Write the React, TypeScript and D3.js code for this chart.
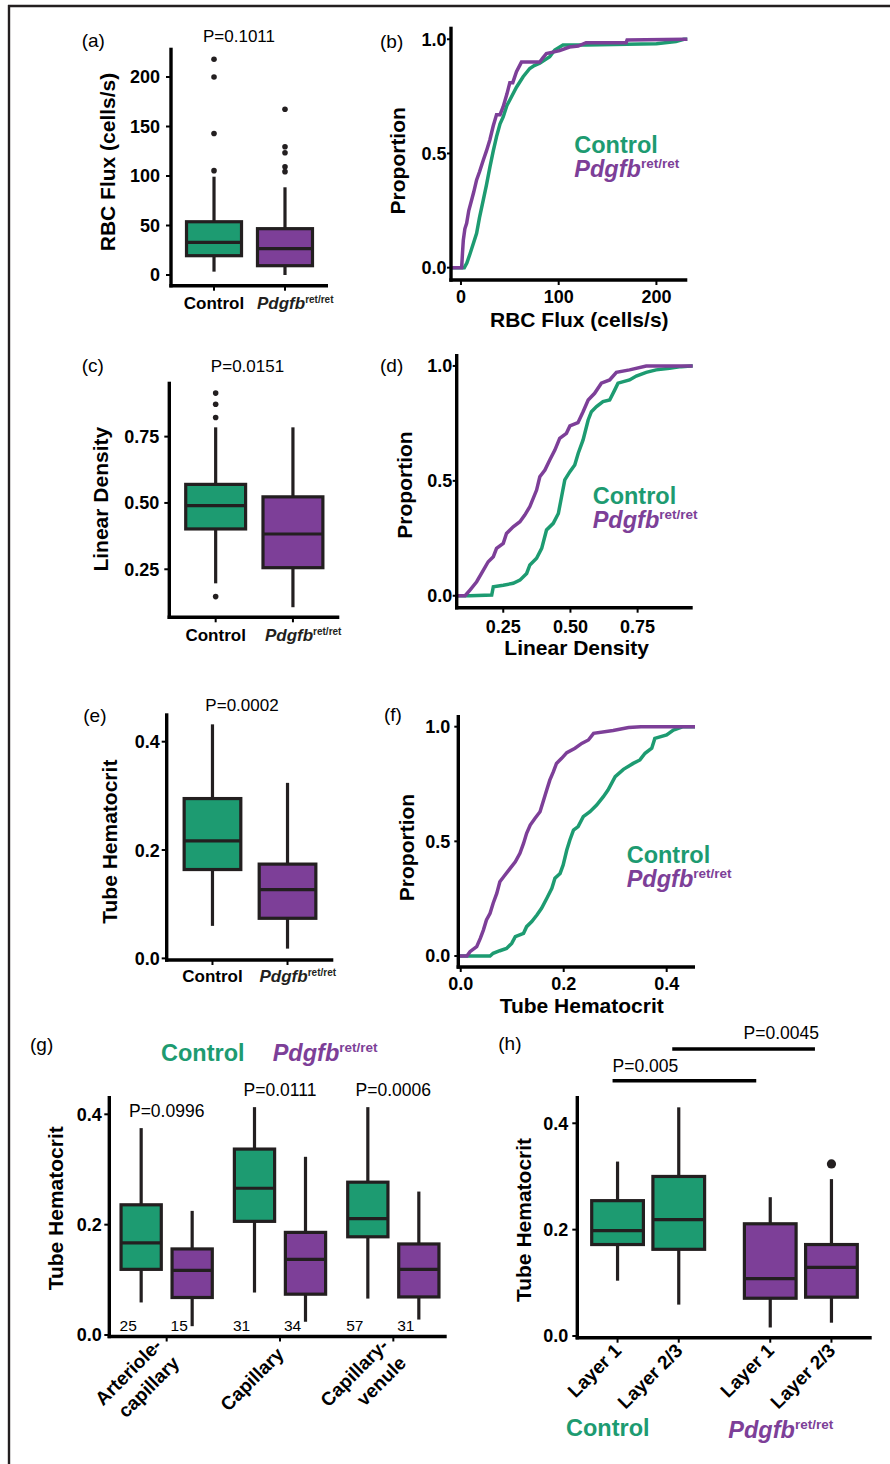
import React from "react";
import * as d3 from "d3";

const GREEN = "#1d9b71";
const PURPLE = "#7d3f98";
const INK = "#231f20";
const FONT = "'Liberation Sans', Arial, Helvetica, sans-serif";

// ---------- shared categories ----------
const boxGroups = ["Control", "Pdgfb"];

// ---------- (a) RBC flux boxplot: [lo, q1, median, q3, hi] ----------
const fluxControlBox = [3.4, 19.5, 33, 53.8, 99.3];
const fluxPdgfbBox = [0, 9.4, 26.6, 46.8, 88.6];
const fluxControlOutliers = [105.4, 143, 200, 218];
const fluxPdgfbOutliers = [104.4, 109.4, 123.5, 129.6, 167.4];
const fluxTicks = [0, 50, 100, 150, 200];

// ---------- (b) RBC flux ECDF [value, proportion] ----------
const fluxControlCdf: [number, number][] = [
  [3.4, 0], [6, 0.02], [9.2, 0.06], [13, 0.11], [16, 0.15], [19, 0.22], [22.8, 0.296],
  [26, 0.36], [29.6, 0.44], [33, 0.51], [36.4, 0.574], [40, 0.63], [43.2, 0.66], [47, 0.71],
  [50, 0.734], [56.8, 0.79], [63.6, 0.836], [70.4, 0.872], [75, 0.885], [80.6, 0.895],
  [90.8, 0.924], [96, 0.953], [104.4, 0.975], [128, 0.975], [170, 0.978], [200, 0.98],
  [220, 0.99], [228, 1.0],
];
const fluxPdgfbCdf: [number, number][] = [
  [0.7, 0], [1.5, 0.06], [2.4, 0.12], [4, 0.17], [5.8, 0.194], [8, 0.25], [10.9, 0.296],
  [13, 0.33], [16, 0.384], [19, 0.42], [22.8, 0.47], [26, 0.51], [29.6, 0.56], [33, 0.62],
  [36.4, 0.67], [40, 0.67], [43.2, 0.705], [47, 0.76], [50, 0.81], [53, 0.81], [56.8, 0.858],
  [61.9, 0.9], [80.6, 0.9], [84, 0.92], [87.4, 0.937], [101, 0.95], [111, 0.966], [120, 0.97],
  [128, 0.985], [169, 0.985], [170, 0.997], [230, 1.0],
];
const fluxCdfTicks = [0, 100, 200];
const proportionTicks = [0, 0.5, 1];

// ---------- (c) linear density boxplot ----------
const densityControlBox = [0.197, 0.402, 0.49, 0.57, 0.785];
const densityPdgfbBox = [0.107, 0.256, 0.383, 0.523, 0.785];
const densityControlOutliers = [0.147, 0.822, 0.872, 0.914];
const densityPdgfbOutliers: number[] = [];
const densityTicks = [0.25, 0.5, 0.75];

// ---------- (d) linear density ECDF ----------
const densityPdgfbCdf: [number, number][] = [
  [0.108, 0], [0.126, 0.025], [0.151, 0.061], [0.176, 0.112], [0.194, 0.148], [0.213, 0.17],
  [0.225, 0.206], [0.25, 0.228], [0.262, 0.271], [0.287, 0.3], [0.312, 0.322], [0.33, 0.351],
  [0.349, 0.388], [0.374, 0.46], [0.386, 0.518], [0.405, 0.547], [0.423, 0.591], [0.442, 0.634],
  [0.46, 0.685], [0.485, 0.707], [0.498, 0.739], [0.528, 0.753], [0.547, 0.801], [0.566, 0.852],
  [0.59, 0.881], [0.615, 0.925], [0.646, 0.939], [0.671, 0.972], [0.72, 0.983], [0.782, 1.0],
];
const densityControlCdf: [number, number][] = [
  [0.126, 0], [0.207, 0.003], [0.213, 0.039], [0.25, 0.046], [0.287, 0.054], [0.312, 0.068],
  [0.337, 0.097], [0.349, 0.134], [0.374, 0.163], [0.393, 0.206], [0.411, 0.286], [0.436, 0.315],
  [0.455, 0.358], [0.467, 0.431], [0.479, 0.504], [0.498, 0.54], [0.516, 0.569], [0.529, 0.62],
  [0.547, 0.678], [0.566, 0.765], [0.578, 0.801], [0.597, 0.823], [0.621, 0.845], [0.646, 0.852],
  [0.665, 0.896], [0.677, 0.925], [0.72, 0.939], [0.745, 0.956], [0.782, 0.972], [0.819, 0.983],
  [0.869, 0.99], [0.912, 0.997], [0.949, 1.0],
];

// ---------- (e) tube hematocrit boxplot ----------
const hctControlBox = [0.06, 0.164, 0.217, 0.295, 0.432];
const hctPdgfbBox = [0.018, 0.074, 0.127, 0.174, 0.324];
const hctTicks = [0, 0.2, 0.4];

// ---------- (f) tube hematocrit ECDF ----------
const hctPdgfbCdf: [number, number][] = [
  [0.012, 0], [0.018, 0.019], [0.031, 0.041], [0.038, 0.077], [0.044, 0.113], [0.05, 0.157],
  [0.057, 0.186], [0.063, 0.23], [0.07, 0.273], [0.076, 0.324], [0.086, 0.353], [0.096, 0.382],
  [0.106, 0.411], [0.115, 0.448], [0.122, 0.491], [0.128, 0.535], [0.135, 0.571], [0.144, 0.6],
  [0.154, 0.629], [0.16, 0.673], [0.167, 0.724], [0.173, 0.767], [0.18, 0.804], [0.186, 0.84],
  [0.196, 0.862], [0.206, 0.887], [0.222, 0.906], [0.235, 0.927], [0.248, 0.942], [0.258, 0.971],
  [0.296, 0.983], [0.326, 0.996], [0.35, 1.0],
];
const hctControlCdf: [number, number][] = [
  [0.018, 0], [0.057, 0], [0.063, 0.012], [0.076, 0.023], [0.089, 0.033], [0.099, 0.055],
  [0.106, 0.084], [0.122, 0.099], [0.128, 0.128], [0.138, 0.15], [0.148, 0.179], [0.157, 0.208],
  [0.167, 0.251], [0.177, 0.295], [0.183, 0.339], [0.193, 0.36], [0.199, 0.397], [0.206, 0.462],
  [0.212, 0.506], [0.219, 0.549], [0.228, 0.564], [0.238, 0.608], [0.251, 0.629], [0.264, 0.658],
  [0.277, 0.695], [0.286, 0.724], [0.3, 0.782], [0.316, 0.814], [0.335, 0.84], [0.348, 0.855],
  [0.358, 0.884], [0.371, 0.906], [0.377, 0.949], [0.4, 0.964], [0.413, 0.985], [0.432, 1.0],
];

// ---------- (g) hematocrit by vessel type ----------
const vesselTypes = ["Arteriole-capillary", "Capillary", "Capillary-venule"];
const vesselLabelLines = [["Arteriole-", "capillary"], ["Capillary"], ["Capillary-", "venule"]];
const vesselControlBoxes = [
  [0.059, 0.119, 0.167, 0.236, 0.375],
  [0.077, 0.206, 0.266, 0.337, 0.413],
  [0.066, 0.178, 0.211, 0.277, 0.413],
];
const vesselPdgfbBoxes = [
  [0.016, 0.068, 0.117, 0.156, 0.225],
  [0.024, 0.074, 0.137, 0.186, 0.323],
  [0.028, 0.069, 0.119, 0.165, 0.26],
];
const vesselControlN = [25, 31, 57];
const vesselPdgfbN = [15, 34, 31];
const vesselPValues = ["P=0.0996", "P=0.0111", "P=0.0006"];

// ---------- (h) hematocrit by cortical layer ----------
const layers = ["Layer 1", "Layer 2/3"];
const layerControlBoxes = [
  [0.104, 0.172, 0.198, 0.2545, 0.328],
  [0.059, 0.163, 0.219, 0.3, 0.43],
];
const layerPdgfbBoxes = [
  [0.016, 0.071, 0.108, 0.211, 0.261],
  [0.025, 0.073, 0.129, 0.172, 0.295],
];
const layerPdgfbOutliers = [[], [0.3235]];
const layerPValues = ["P=0.005", "P=0.0045"];

// ================= drawing helpers =================
const AXW = 3.4;
const BOXW = 3.2;

function PdgfbLabel({ x, y, size, sup, anchor = "start", fill = INK }: any) {
  return (
    <text x={x} y={y} fontSize={size} fontWeight="bold" fill={fill} textAnchor={anchor}>
      <tspan fontStyle="italic">Pdgfb</tspan>
      <tspan fontSize={sup} dy={-size * 0.36}>ret/ret</tspan>
    </text>
  );
}

function Box({ cx, w, y, s, fill, outliers = [], r = 2.8 }: any) {
  const [lo, q1, med, q3, hi] = s;
  return (
    <g>
      <line x1={cx} x2={cx} y1={y(hi)} y2={y(q3)} stroke={INK} strokeWidth={BOXW} />
      <line x1={cx} x2={cx} y1={y(q1)} y2={y(lo)} stroke={INK} strokeWidth={BOXW} />
      <rect x={cx - w / 2} y={y(q3)} width={w} height={y(q1) - y(q3)} fill={fill} stroke={INK} strokeWidth={BOXW} />
      <line x1={cx - w / 2} x2={cx + w / 2} y1={y(med)} y2={y(med)} stroke={INK} strokeWidth={BOXW} />
      {outliers.map((o: number, i: number) => (
        <circle key={i} cx={cx} cy={y(o)} r={r} fill={INK} />
      ))}
    </g>
  );
}

function YAxis({ x, top, bottom, y, ticks, fmt, gap, tickLen = 5 }: any) {
  return (
    <g>
      <line x1={x} x2={x} y1={top} y2={bottom + AXW / 2} stroke="#000" strokeWidth={AXW} />
      {ticks.map((t: number) => (
        <g key={t}>
          <line x1={x - tickLen} x2={x} y1={y(t)} y2={y(t)} stroke="#000" strokeWidth={2} />
          <text x={x - gap} y={y(t)} dy="0.36em" textAnchor="end" fontSize={18} fontWeight="bold">
            {fmt(t)}
          </text>
        </g>
      ))}
    </g>
  );
}

function XAxisLine({ left, right, y, ticksAt = [] }: any) {
  return (
    <g>
      <line x1={left - AXW / 2} x2={right} y1={y} y2={y} stroke="#000" strokeWidth={AXW} />
      {ticksAt.map((t: number, i: number) => (
        <line key={i} x1={t} x2={t} y1={y} y2={y + 5} stroke="#000" strokeWidth={2} />
      ))}
    </g>
  );
}

function YTitle({ x, cy, text }: any) {
  return (
    <text transform={`translate(${x},${cy}) rotate(-90)`} textAnchor="middle" fontSize={21} fontWeight="bold">
      {text}
    </text>
  );
}

function Letter({ x, y, t }: any) {
  return (
    <text x={x} y={y} fontSize={19}>
      {t}
    </text>
  );
}

function BoxPanel({ c }: any) {
  const y = d3.scaleLinear().domain(c.domain).range([c.bottom, c.top]);
  const x = d3.scalePoint<string>().domain(boxGroups).range([c.left, c.right]).padding(c.pad);
  const bw = x.step() * c.boxFrac;
  const xc = boxGroups.map((g) => x(g) as number);
  return (
    <g>
      <Letter x={c.letterX} y={c.letterY} t={c.letter} />
      <text x={c.pX} y={c.pY} textAnchor="middle" fontSize={17}>
        {c.pText}
      </text>
      <Box cx={xc[0]} w={bw} y={y} s={c.boxes[0]} fill={GREEN} outliers={c.outliers[0]} />
      <Box cx={xc[1]} w={bw} y={y} s={c.boxes[1]} fill={PURPLE} outliers={c.outliers[1]} />
      <YAxis x={c.left} top={c.top} bottom={c.bottom} y={y} ticks={c.ticks} fmt={c.fmt} gap={c.gap} />
      <XAxisLine left={c.left} right={c.right} y={c.bottom} ticksAt={xc} />
      <text x={xc[0]} y={c.catY} textAnchor="middle" fontSize={17} fontWeight="bold">
        Control
      </text>
      <PdgfbLabel x={xc[1] - 28} y={c.catY} size={17} sup={10} />
      <YTitle x={c.ylabX} cy={c.ylabY} text={c.ylab} />
    </g>
  );
}

function CdfPanel({ c }: any) {
  const x = d3.scaleLinear().domain(c.xDomain).range([c.left, c.right]);
  const y = d3.scaleLinear().domain(c.yDomain).range([c.bottom, c.top]);
  const line = d3
    .line<[number, number]>()
    .x((d) => x(d[0]))
    .y((d) => y(d[1]));
  const pad = (arr: [number, number][]) =>
    [[c.xDomain[0], 0], ...arr, [c.xDomain[1], 1]] as [number, number][];
  return (
    <g>
      <Letter x={c.letterX} y={c.letterY} t={c.letter} />
      <path d={line(pad(c.control)) || ""} fill="none" stroke={GREEN} strokeWidth={3.5} strokeLinejoin="miter" />
      <path d={line(pad(c.pdgfb)) || ""} fill="none" stroke={PURPLE} strokeWidth={3.5} strokeLinejoin="miter" />
      <YAxis x={c.left} top={c.top} bottom={c.bottom} y={y} ticks={proportionTicks} fmt={d3.format(".1f")} gap={c.gap} tickLen={4} />
      <XAxisLine left={c.left} right={c.right} y={c.bottom} ticksAt={c.xTicks.map((t: number) => x(t))} />
      {c.xTicks.map((t: number) => (
        <text key={t} x={x(t)} y={c.xTickY} textAnchor="middle" fontSize={18} fontWeight="bold">
          {c.xFmt(t)}
        </text>
      ))}
      <text x={c.xlabX} y={c.xlabY} textAnchor="middle" fontSize={21} fontWeight="bold">
        {c.xlab}
      </text>
      <YTitle x={c.ylabX} cy={c.ylabY} text="Proportion" />
      <text x={c.legX} y={c.legY} fontSize={23.5} fontWeight="bold" fill={GREEN}>
        Control
      </text>
      <PdgfbLabel x={c.legX} y={c.legY + 23.5} size={23.5} sup={13.5} fill={PURPLE} />
    </g>
  );
}

function RotLabel({ x, y, lines, size = 18.5, spacing = 25 }: any) {
  const n = lines.length;
  return (
    <g>
      {lines.map((t: string, k: number) => {
        const s = (k - (n - 1) / 2) * spacing;
        const px = x + s * 0.7071;
        const py = y + s * 0.7071;
        return (
          <text key={k} transform={`translate(${px},${py}) rotate(-45)`} textAnchor="end" fontSize={size} fontWeight="bold">
            {t}
          </text>
        );
      })}
    </g>
  );
}

function VesselPanel() {
  const left = 109.3, right = 446.7, top = 1096, bottom = 1336.5;
  const y = d3.scaleLinear().domain([-0.0027, 0.4332]).range([bottom, top]);
  const x = d3.scalePoint<string>().domain(vesselTypes).range([110, 450]).padding(0.5);
  const step = x.step();
  const dodge = step * 0.225;
  const bw = step * 0.355;
  const centers = vesselTypes.map((v) => x(v) as number);
  return (
    <g>
      <Letter x={30} y={1050.7} t="(g)" />
      <text x={161} y={1060.7} fontSize={23.5} fontWeight="bold" fill={GREEN}>
        Control
      </text>
      <PdgfbLabel x={272.7} y={1060.7} size={23.5} sup={13.5} fill={PURPLE} />
      {centers.map((cx, i) => (
        <g key={i}>
          <Box cx={cx - dodge} w={bw} y={y} s={vesselControlBoxes[i]} fill={GREEN} />
          <Box cx={cx + dodge} w={bw} y={y} s={vesselPdgfbBoxes[i]} fill={PURPLE} />
          <text x={cx - dodge - 13} y={1330.7} textAnchor="middle" fontSize={15.5}>
            {vesselControlN[i]}
          </text>
          <text x={cx + dodge - 13} y={1330.7} textAnchor="middle" fontSize={15.5}>
            {vesselPdgfbN[i]}
          </text>
          <text
            x={cx}
            y={y(Math.max(vesselControlBoxes[i][4], vesselPdgfbBoxes[i][4])) - 11}
            textAnchor="middle"
            fontSize={17.5}
          >
            {vesselPValues[i]}
          </text>
          <RotLabel x={cx + 5} y={bottom + 19} lines={vesselLabelLines[i]} size={19} />
        </g>
      ))}
      <YAxis x={left} top={top} bottom={bottom} y={y} ticks={hctTicks} fmt={d3.format(".1f")} gap={7.6} />
      <XAxisLine left={left} right={right} y={bottom} ticksAt={centers} />
      <YTitle x={62.7} cy={1208.3} text="Tube Hematocrit" />
    </g>
  );
}

function LayerPanel() {
  const left = 577.3, right = 871.7, top = 1096, bottom = 1337.7;
  const y = d3.scaleLinear().domain([-0.0032, 0.4513]).range([bottom, top]);
  const gx = d3.scalePoint<string>().domain(boxGroups).range([left, right]).padding(0.464);
  const lx = d3.scalePoint<string>().domain(layers).range([-30.6, 30.6]);
  const bw = 51.7;
  const pos = (g: string, l: string) => (gx(g) as number) + (lx(l) as number);
  const allPos = boxGroups.flatMap((g) => layers.map((l) => pos(g, l)));
  const bar1 = [pos("Control", layers[0]) - 5, pos("Pdgfb", layers[0]) - 14];
  const bar2 = [pos("Control", layers[1]) - 6.5, pos("Pdgfb", layers[1]) - 16.5];
  return (
    <g>
      <Letter x={498.3} y={1050} t="(h)" />
      <line x1={bar1[0]} x2={bar1[1]} y1={1080.7} y2={1080.7} stroke="#000" strokeWidth={3.4} />
      <text x={bar1[0]} y={1071.7} fontSize={17.5}>
        {layerPValues[0]}
      </text>
      <line x1={bar2[0]} x2={bar2[1]} y1={1049} y2={1049} stroke="#000" strokeWidth={3.4} />
      <text x={bar2[1] + 4} y={1039.3} textAnchor="end" fontSize={17.5}>
        {layerPValues[1]}
      </text>
      {layers.map((l, i) => (
        <g key={l}>
          <Box cx={pos("Control", l)} w={bw} y={y} s={layerControlBoxes[i]} fill={GREEN} />
          <Box cx={pos("Pdgfb", l)} w={bw} y={y} s={layerPdgfbBoxes[i]} fill={PURPLE} outliers={layerPdgfbOutliers[i]} r={4.6} />
        </g>
      ))}
      <YAxis x={left} top={top} bottom={bottom} y={y} ticks={hctTicks} fmt={d3.format(".1f")} gap={9} />
      <XAxisLine left={left} right={right} y={bottom} ticksAt={allPos} />
      {boxGroups.map((g) =>
        layers.map((l) => <RotLabel key={g + l} x={pos(g, l) + 5} y={bottom + 14} lines={[l]} size={19} />)
      )}
      <text x={566} y={1436} fontSize={23.5} fontWeight="bold" fill={GREEN}>
        Control
      </text>
      <PdgfbLabel x={728.3} y={1437.7} size={23.5} sup={13.5} fill={PURPLE} />
      <YTitle x={531} cy={1220} text="Tube Hematocrit" />
    </g>
  );
}

const panelA = {
  left: 171, right: 328, top: 47.7, bottom: 285.7, domain: [-10.8, 229.6], ticks: fluxTicks,
  fmt: (d: number) => String(d), pad: 0.606, boxFrac: 0.775, gap: 11, catY: 309.3,
  boxes: [fluxControlBox, fluxPdgfbBox], outliers: [fluxControlOutliers, fluxPdgfbOutliers],
  pText: "P=0.1011", pX: 239, pY: 41.7, letter: "(a)", letterX: 81.7, letterY: 47,
  ylab: "RBC Flux (cells/s)", ylabX: 115, ylabY: 162,
};
const panelC = {
  left: 169.3, right: 339.3, top: 381.7, bottom: 617.3, domain: [0.069, 0.957], ticks: densityTicks,
  fmt: d3.format(".2f"), pad: 0.6, boxFrac: 0.775, gap: 10, catY: 641,
  boxes: [densityControlBox, densityPdgfbBox], outliers: [densityControlOutliers, densityPdgfbOutliers],
  pText: "P=0.0151", pX: 247.5, pY: 371.7, letter: "(c)", letterX: 81.7, letterY: 372.3,
  ylab: "Linear Density", ylabX: 108.3, ylabY: 499.2,
};
const panelE = {
  left: 166.7, right: 333.3, top: 713.3, bottom: 960, domain: [-0.003, 0.4524], ticks: hctTicks,
  fmt: d3.format(".1f"), pad: 0.61, boxFrac: 0.755, gap: 7, catY: 981.7,
  boxes: [hctControlBox, hctPdgfbBox], outliers: [[], []],
  pText: "P=0.0002", pX: 242, pY: 710.7, letter: "(e)", letterX: 83.3, letterY: 721.7,
  ylab: "Tube Hematocrit", ylabX: 117.3, ylabY: 841.7,
};
const panelB = {
  left: 451, right: 687.3, top: 26.7, bottom: 280, xDomain: [-10.2, 231.6], yDomain: [-0.054, 1.055],
  xTicks: fluxCdfTicks, xFmt: (d: number) => String(d), xTickY: 303.3, gap: 4.5,
  xlab: "RBC Flux (cells/s)", xlabX: 579.3, xlabY: 326.7, ylabX: 405, ylabY: 160.8,
  letter: "(b)", letterX: 380, letterY: 48.3, legX: 574.3, legY: 153.3,
  control: fluxControlCdf, pdgfb: fluxPdgfbCdf,
};
const panelD = {
  left: 456.7, right: 692.7, top: 354, bottom: 607.7, xDomain: [0.0767, 0.955], yDomain: [-0.052, 1.052],
  xTicks: densityTicks, xFmt: d3.format(".2f"), xTickY: 633.3, gap: 4.5,
  xlab: "Linear Density", xlabX: 576.7, xlabY: 655, ylabX: 412.3, ylabY: 485,
  letter: "(d)", letterX: 380, letterY: 372.3, legX: 592.7, legY: 504,
  control: densityControlCdf, pdgfb: densityPdgfbCdf,
};
const panelF = {
  left: 458.3, right: 695, top: 715, bottom: 967, xDomain: [-0.0047, 0.455], yDomain: [-0.048, 1.051],
  xTicks: hctTicks, xFmt: d3.format(".1f"), xTickY: 990, gap: 8,
  xlab: "Tube Hematocrit", xlabX: 581.7, xlabY: 1012.5, ylabX: 414, ylabY: 847.5,
  letter: "(f)", letterX: 384, letterY: 720.7, legX: 626.7, legY: 863.3,
  control: hctControlCdf, pdgfb: hctPdgfbCdf,
};

export default function App() {
  return (
    <svg
      width={890}
      height={1464}
      style={{ position: "absolute", left: 0, top: 0, display: "block" }}
      fontFamily={FONT}
    >
      <rect x={0} y={0} width={890} height={1464} fill="#fff" />
      <line x1={8} x2={890} y1={6} y2={6} stroke={INK} strokeWidth={2.4} />
      <line x1={9} x2={9} y1={5} y2={1464} stroke={INK} strokeWidth={2.4} />
      <BoxPanel c={panelA} />
      <CdfPanel c={panelB} />
      <BoxPanel c={panelC} />
      <CdfPanel c={panelD} />
      <BoxPanel c={panelE} />
      <CdfPanel c={panelF} />
      <VesselPanel />
      <LayerPanel />
    </svg>
  );
}
